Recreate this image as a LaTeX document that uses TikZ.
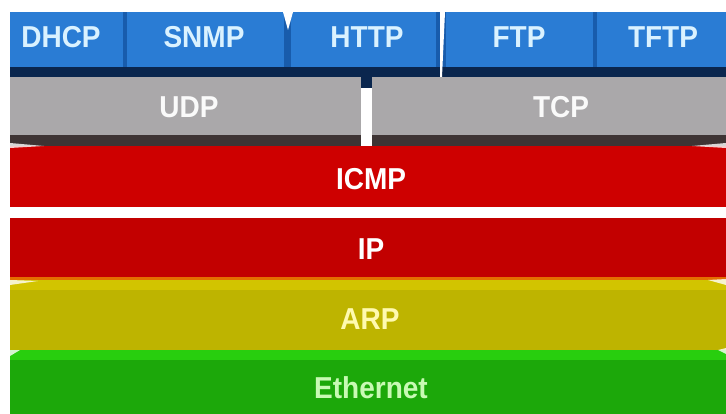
\documentclass[tikz,border=0pt]{standalone}
\usepackage{fontspec}
\setmainfont{Liberation Sans}
\definecolor{cblue}{RGB}{42,124,212}
\definecolor{cbluedk}{RGB}{24,92,172}
\definecolor{cnavy}{RGB}{10,38,78}
\definecolor{cgray}{RGB}{170,168,170}
\definecolor{cgraydk}{RGB}{62,52,52}
\definecolor{cred}{RGB}{206,0,0}
\definecolor{cred2}{RGB}{194,0,0}
\definecolor{corange}{RGB}{228,110,0}
\definecolor{cyel}{RGB}{190,180,0}
\definecolor{cyeltop}{RGB}{210,196,0}
\definecolor{cgreen}{RGB}{28,168,10}
\definecolor{cgreentop}{RGB}{40,206,14}
\definecolor{tblue}{RGB}{218,242,255}
\definecolor{tyel}{RGB}{255,250,175}
\definecolor{tgreen}{RGB}{200,250,180}
\newcommand{\tall}[1]{\scalebox{1}[1.08]{#1}}
\tikzset{
  lbl/.style={font=\fontsize{28}{30}\selectfont\bfseries, inner sep=0pt, anchor=center},
  wedge/.style={fill=white, opacity=0.8},
}
\begin{document}
\begin{tikzpicture}[x=1pt,y=-1pt]
\useasboundingbox (0,0) rectangle (726,414);
\fill[white] (0,0) rectangle (726,414);
% blue row
\fill[cnavy] (10,60) rectangle (726,77);
\fill[cblue] (10,12) rectangle (726,67);
\fill[cbluedk] (123,12) rectangle (127,67);
\fill[cbluedk] (284,12) rectangle (291,67);
\fill[white] (283,12) -- (293,12) -- (288,30) -- cycle;
\fill[cbluedk] (436,12) rectangle (446,67);
\fill[white] (440,12) -- (445,12) -- (442,77) -- (440,77) -- cycle;
\fill[cbluedk] (593,12) rectangle (597,67);
% gray row
\fill[cgray] (10,77) rectangle (361,135);
\fill[cgray] (372,77) rectangle (726,135);
\fill[cgraydk] (10,135) rectangle (726,146);
\fill[cnavy] (361,77) rectangle (372,88);
\fill[white] (361,88) rectangle (372,146);
% red rows
\fill[cred] (10,146) rectangle (726,207);
\fill[white] (10,207) rectangle (726,218);
\fill[cred2] (10,218) rectangle (726,277);
\fill[corange] (10,277) rectangle (726,280);
% yellow row
\fill[cyel] (10,280) rectangle (726,350);
\fill[cyeltop] (10,280) rectangle (726,290);
% green row
\fill[cgreen] (10,350) rectangle (726,414);
\fill[cgreentop] (10,350) rectangle (726,360);
% 3D edge highlights
\fill[wedge] (10,143) -- (44,146) -- (10,148) -- cycle;
\fill[wedge] (692,146) -- (726,143) -- (726,148) -- cycle;
\fill[wedge] (10,280) -- (38,281) -- (10,285) -- cycle;
\fill[wedge] (708,280) -- (726,279) -- (726,285) -- cycle;
\fill[wedge] (10,350) -- (20,350) -- (10,356) -- cycle;
\fill[wedge] (718,350) -- (726,348) -- (726,354) -- cycle;
% labels
\node[lbl, text=tblue] (dhcp) at (61,37) {\tall{DHCP}};
\node[lbl, text=tblue] (snmp) at (204,37) {\tall{SNMP}};
\node[lbl, text=tblue] (http) at (367,37) {\tall{HTTP}};
\node[lbl, text=tblue] (ftp) at (519,37) {\tall{FTP}};
\node[lbl, text=tblue] (tftp) at (663,37) {\tall{TFTP}};
\node[lbl, text=white!96!gray] (udp) at (189,107) {\tall{UDP}};
\node[lbl, text=white!96!gray] (tcp) at (561,107) {\tall{TCP}};
\node[lbl, text=white] (icmp) at (371,179) {\tall{ICMP}};
\node[lbl, text=white] (ip) at (371,249) {\tall{IP}};
\node[lbl, text=tyel] (arp) at (370,319) {\tall{ARP}};
\node[lbl, text=tgreen] (eth) at (371,388) {\tall{Ethernet}};
\end{tikzpicture}
\end{document}
